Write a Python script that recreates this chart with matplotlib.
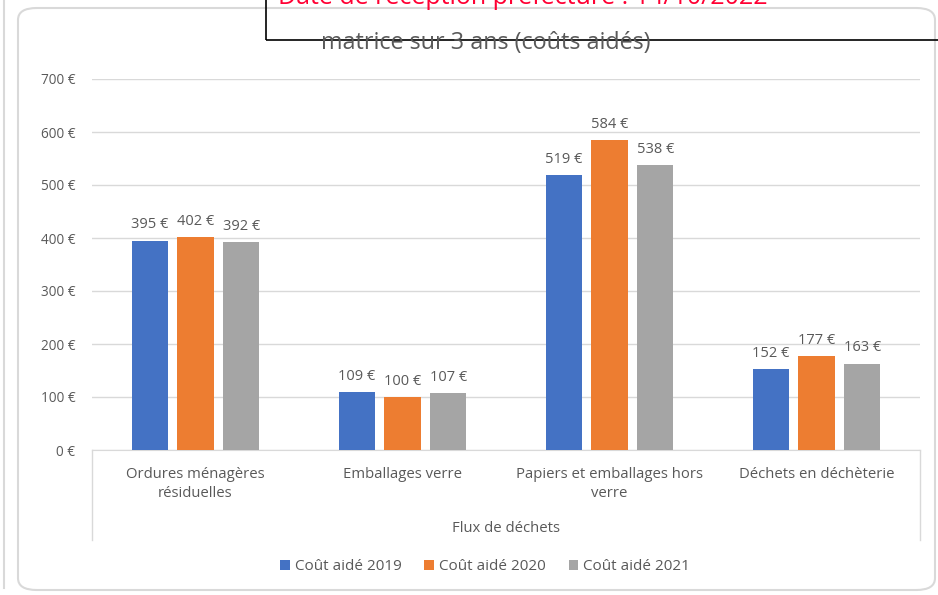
import numpy as np
import matplotlib.pyplot as plt
from matplotlib.patches import FancyBboxPatch, Rectangle
from matplotlib.lines import Line2D

plt.rcParams['font.family'] = ['Open Sans', 'DejaVu Sans']

categories = ["Ordures ménagères\nrésiduelles", "Emballages verre",
              "Papiers et emballages hors\nverre", "Déchets en déchèterie"]
series = ["Coût aidé 2019", "Coût aidé 2020", "Coût aidé 2021"]
cout_2019 = [395, 109, 519, 152]
cout_2020 = [402, 100, 584, 177]
cout_2021 = [392, 107, 538, 163]
values = [cout_2019, cout_2020, cout_2021]
colors = ["#4472C4", "#ED7D31", "#A5A5A5"]
yticks = [0, 100, 200, 300, 400, 500, 600, 700]

W, H = 938, 595
TXT = "#595959"


def fx(px):
    return px / W


def fy(py):
    return 1 - py / H


fig = plt.figure(figsize=(W / 100, H / 100), dpi=100)
fig.patch.set_facecolor("white")

# outer card frame
fig.patches.append(FancyBboxPatch((fx(18), fy(590)), fx(917), 582 / H,
                                  boxstyle="round,pad=0,rounding_size=0.02",
                                  transform=fig.transFigure, fill=False,
                                  edgecolor="#D9D9D9", lw=1.5))
fig.lines.append(Line2D([fx(4), fx(4)], [fy(0), fy(588)], transform=fig.transFigure,
                        color="#D9D9D9", lw=1.5))

ax = fig.add_axes([fx(92), fy(450), fx(920) - fx(92), (450 - 79) / H])
x = np.arange(len(categories))
offsets = [-0.222, 0, 0.222]
for vals, off, col, name in zip(values, offsets, colors, series):
    bars = ax.bar(x + off, vals, width=0.174, color=col, label=name, zorder=3)
    for b, v in zip(bars, vals):
        ax.annotate(f"{v} €", (b.get_x() + b.get_width() / 2, v), xytext=(0, 6),
                    textcoords="offset points", ha="center", va="bottom",
                    fontsize=10.5, color=TXT)

ax.set_xlim(-0.5, len(categories) - 0.5)
ax.set_ylim(0, 700)
ax.set_yticks(yticks)
ax.set_yticklabels([f"{t} €" for t in yticks], fontsize=9.8, color=TXT)
ax.yaxis.grid(True, color="#D9D9D9", lw=1, zorder=0)
ax.tick_params(axis="y", length=0, pad=12)
ax.set_xticks(x)
ax.set_xticklabels(categories, fontsize=10.7, color=TXT, linespacing=1.35)
ax.tick_params(axis="x", length=0, pad=12)
for s in ["top", "right", "left"]:
    ax.spines[s].set_visible(False)
ax.spines["bottom"].set_color("#D9D9D9")

# multi-level category box
for px in (92, 920):
    fig.lines.append(Line2D([fx(px), fx(px)], [fy(450), fy(540)],
                            transform=fig.transFigure, color="#D9D9D9", lw=1))
fig.text(fx(506), fy(528), "Flux de déchets", ha="center", va="center",
         fontsize=10.7, color=TXT)

fig.legend(loc="center", bbox_to_anchor=(fx(485), fy(567)), ncol=3, frameon=False,
           fontsize=11, labelcolor=TXT, handlelength=0.65, handleheight=0.65,
           handletextpad=0.3, columnspacing=1.5)

# title
fig.text(fx(486), fy(43), "matrice sur 3 ans (coûts aidés)", ha="center",
         va="center", fontsize=16.8, color=TXT)

# overlaid stamp box
fig.patches.append(Rectangle((fx(266), fy(40)), 1, 60 / H, transform=fig.transFigure,
                             fill=False, edgecolor="black", lw=1.2))
fig.text(fx(278), fy(4), "Date de réception préfecture : 14/10/2022", ha="left",
         va="baseline", fontsize=18, color="#FF0033")

fig.savefig("out.png", dpi=100)
